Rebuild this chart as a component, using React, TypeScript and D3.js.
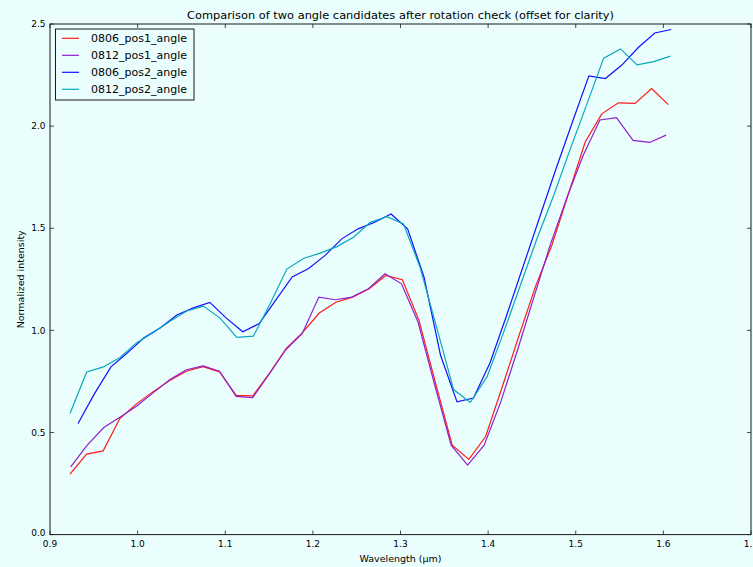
import React from "react";
import * as d3 from "d3";

const xTicks = [0.9, 1.0, 1.1, 1.2, 1.3, 1.4, 1.5, 1.6, 1.7];
const yTicks = [0.0, 0.5, 1.0, 1.5, 2.0, 2.5];

const wl0806pos1 = [0.9228, 0.9418, 0.9607, 0.9797, 0.9987, 1.0177, 1.0366, 1.0556, 1.0746, 1.0935, 1.1125, 1.1315, 1.1504, 1.1694, 1.1884, 1.2073, 1.2263, 1.2453, 1.2642, 1.2832, 1.3021, 1.3211, 1.3401, 1.359, 1.378, 1.397, 1.4159, 1.4349, 1.4539, 1.4728, 1.4918, 1.5108, 1.5297, 1.5487, 1.5677, 1.5866, 1.6056];
const val0806pos1 = [0.296, 0.394, 0.41, 0.568, 0.64, 0.7, 0.755, 0.8, 0.822, 0.796, 0.682, 0.679, 0.79, 0.91, 0.99, 1.085, 1.138, 1.163, 1.204, 1.269, 1.248, 1.049, 0.74, 0.438, 0.368, 0.479, 0.72, 0.97, 1.213, 1.418, 1.67, 1.922, 2.06, 2.114, 2.111, 2.184, 2.105];

const wl0812pos1 = [0.9236, 0.9425, 0.9614, 0.9802, 0.9991, 1.018, 1.0369, 1.0558, 1.0746, 1.0935, 1.1124, 1.1313, 1.1501, 1.169, 1.1879, 1.2068, 1.2256, 1.2445, 1.2634, 1.2823, 1.3011, 1.32, 1.3389, 1.3578, 1.3766, 1.3955, 1.4144, 1.4333, 1.4521, 1.471, 1.4899, 1.5088, 1.5276, 1.5465, 1.5654, 1.5843, 1.6031];
const val0812pos1 = [0.332, 0.438, 0.524, 0.576, 0.63, 0.695, 0.76, 0.807, 0.826, 0.8, 0.677, 0.671, 0.785, 0.905, 0.985, 1.163, 1.15, 1.163, 1.204, 1.277, 1.228, 1.041, 0.735, 0.438, 0.34, 0.438, 0.65, 0.9, 1.16, 1.42, 1.65, 1.86, 2.03, 2.041, 1.93, 1.92, 1.956];

const wl0806pos2 = [0.932, 0.9508, 0.9696, 0.9884, 1.0072, 1.026, 1.0448, 1.0636, 1.0824, 1.1012, 1.12, 1.1388, 1.1576, 1.1764, 1.1952, 1.214, 1.2329, 1.2517, 1.2705, 1.2893, 1.3081, 1.3269, 1.3457, 1.3645, 1.3833, 1.4021, 1.4209, 1.4397, 1.4585, 1.4774, 1.4962, 1.515, 1.5338, 1.5526, 1.5714, 1.5902, 1.609];
const val0806pos2 = [0.544, 0.69, 0.821, 0.89, 0.964, 1.013, 1.075, 1.11, 1.137, 1.06, 0.993, 1.033, 1.148, 1.262, 1.303, 1.367, 1.448, 1.497, 1.529, 1.57, 1.497, 1.26, 0.878, 0.65, 0.669, 0.84, 1.07, 1.31, 1.55, 1.79, 2.02, 2.246, 2.233, 2.299, 2.385, 2.456, 2.473];

const wl0812pos2 = [0.9228, 0.9419, 0.9609, 0.9799, 0.999, 1.018, 1.037, 1.0561, 1.0751, 1.0941, 1.1132, 1.1322, 1.1512, 1.1703, 1.1893, 1.2083, 1.2274, 1.2464, 1.2654, 1.2845, 1.3035, 1.3225, 1.3416, 1.3606, 1.3796, 1.3987, 1.4177, 1.4367, 1.4558, 1.4748, 1.4939, 1.5129, 1.5319, 1.551, 1.57, 1.589, 1.6081];
const val0812pos2 = [0.593, 0.796, 0.821, 0.867, 0.94, 0.99, 1.045, 1.095, 1.119, 1.06, 0.966, 0.972, 1.13, 1.3, 1.352, 1.378, 1.41, 1.456, 1.529, 1.557, 1.521, 1.306, 1.01, 0.71, 0.647, 0.772, 0.99, 1.22, 1.45, 1.66, 1.89, 2.11, 2.333, 2.378, 2.3, 2.316, 2.343];

const seriesNames = ["0806_pos1_angle", "0812_pos1_angle", "0806_pos2_angle", "0812_pos2_angle"];
const seriesColors = ["#ff1a1a", "#8e1fcf", "#1010ff", "#0aa6bd"];
const seriesX = [wl0806pos1, wl0812pos1, wl0806pos2, wl0812pos2];
const seriesY = [val0806pos1, val0812pos1, val0806pos2, val0812pos2];

const W = 753;
const H = 567;
const BG = "#eafffd";
const FONT = "'DejaVu Sans', sans-serif";

export default function App() {
  const left = 50, right = 751, top = 24, bottom = 534.6;
  const x = d3.scaleLinear().domain([0.9, 1.7]).range([left, right]);
  const y = d3.scaleLinear().domain([0, 2.5]).range([bottom, top]);
  const line = d3.line<[number, number]>().x((d) => x(d[0])).y((d) => y(d[1]));
  const tickLen = 4;

  return (
    <svg width={W} height={H} style={{ position: "absolute", left: 0, top: 0, display: "block" }} fontFamily={FONT}>
      <rect x={0} y={0} width={W} height={H} fill={BG} />
      <defs>
        <clipPath id="plotclip">
          <rect x={left} y={top} width={right - left} height={bottom - top} />
        </clipPath>
      </defs>
      <g clipPath="url(#plotclip)">
        {seriesNames.map((n, k) => (
          <path
            key={n}
            d={line(seriesX[k].map((xv, i) => [xv, seriesY[k][i]] as [number, number])) || ""}
            fill="none"
            stroke={seriesColors[k]}
            strokeWidth={1.2}
            strokeLinejoin="miter"
          />
        ))}
      </g>
      <rect x={left} y={top} width={right - left} height={bottom - top} fill="none" stroke="#1a1a1a" strokeWidth={1} />
      {xTicks.map((t) => (
        <g key={"x" + t}>
          <line x1={x(t)} x2={x(t)} y1={bottom} y2={bottom - tickLen} stroke="#1a1a1a" strokeWidth={0.8} />
          <line x1={x(t)} x2={x(t)} y1={top} y2={top + tickLen} stroke="#1a1a1a" strokeWidth={0.8} />
          <text x={x(t)} y={547} fontSize={9} textAnchor="middle" fill="#000">
            {t.toFixed(1)}
          </text>
        </g>
      ))}
      {yTicks.map((t) => (
        <g key={"y" + t}>
          <line x1={left} x2={left + tickLen} y1={y(t)} y2={y(t)} stroke="#1a1a1a" strokeWidth={0.8} />
          <line x1={right} x2={right - tickLen} y1={y(t)} y2={y(t)} stroke="#1a1a1a" strokeWidth={0.8} />
          <text x={45.5} y={y(t) + (t === 0 ? 1.5 : 3.2)} fontSize={9} textAnchor="end" fill="#000">
            {t.toFixed(1)}
          </text>
        </g>
      ))}
      <text x={(left + right) / 2} y={19} fontSize={10.5} textAnchor="middle" textLength={427} lengthAdjust="spacingAndGlyphs" fill="#000">
        Comparison of two angle candidates after rotation check (offset for clarity)
      </text>
      <text x={(left + right) / 2} y={562} fontSize={9.5} textAnchor="middle" fill="#000">
        Wavelength (μm)
      </text>
      <text transform={`translate(24,${(top + bottom) / 2}) rotate(-90)`} fontSize={9.5} textAnchor="middle" fill="#000">
        Normalized intensity
      </text>
      <g>
        <rect x={55.5} y={29} width={138.5} height={71} fill={BG} stroke="#1a1a1a" strokeWidth={1} />
        {seriesNames.map((n, k) => {
          const ry = 38.3 + k * 17;
          return (
            <g key={"lg" + n}>
              <line x1={62} x2={79} y1={ry} y2={ry} stroke={seriesColors[k]} strokeWidth={1.2} />
              <text x={91} y={ry + 4} fontSize={11} fill="#000">
                {n}
              </text>
            </g>
          );
        })}
      </g>
    </svg>
  );
}
